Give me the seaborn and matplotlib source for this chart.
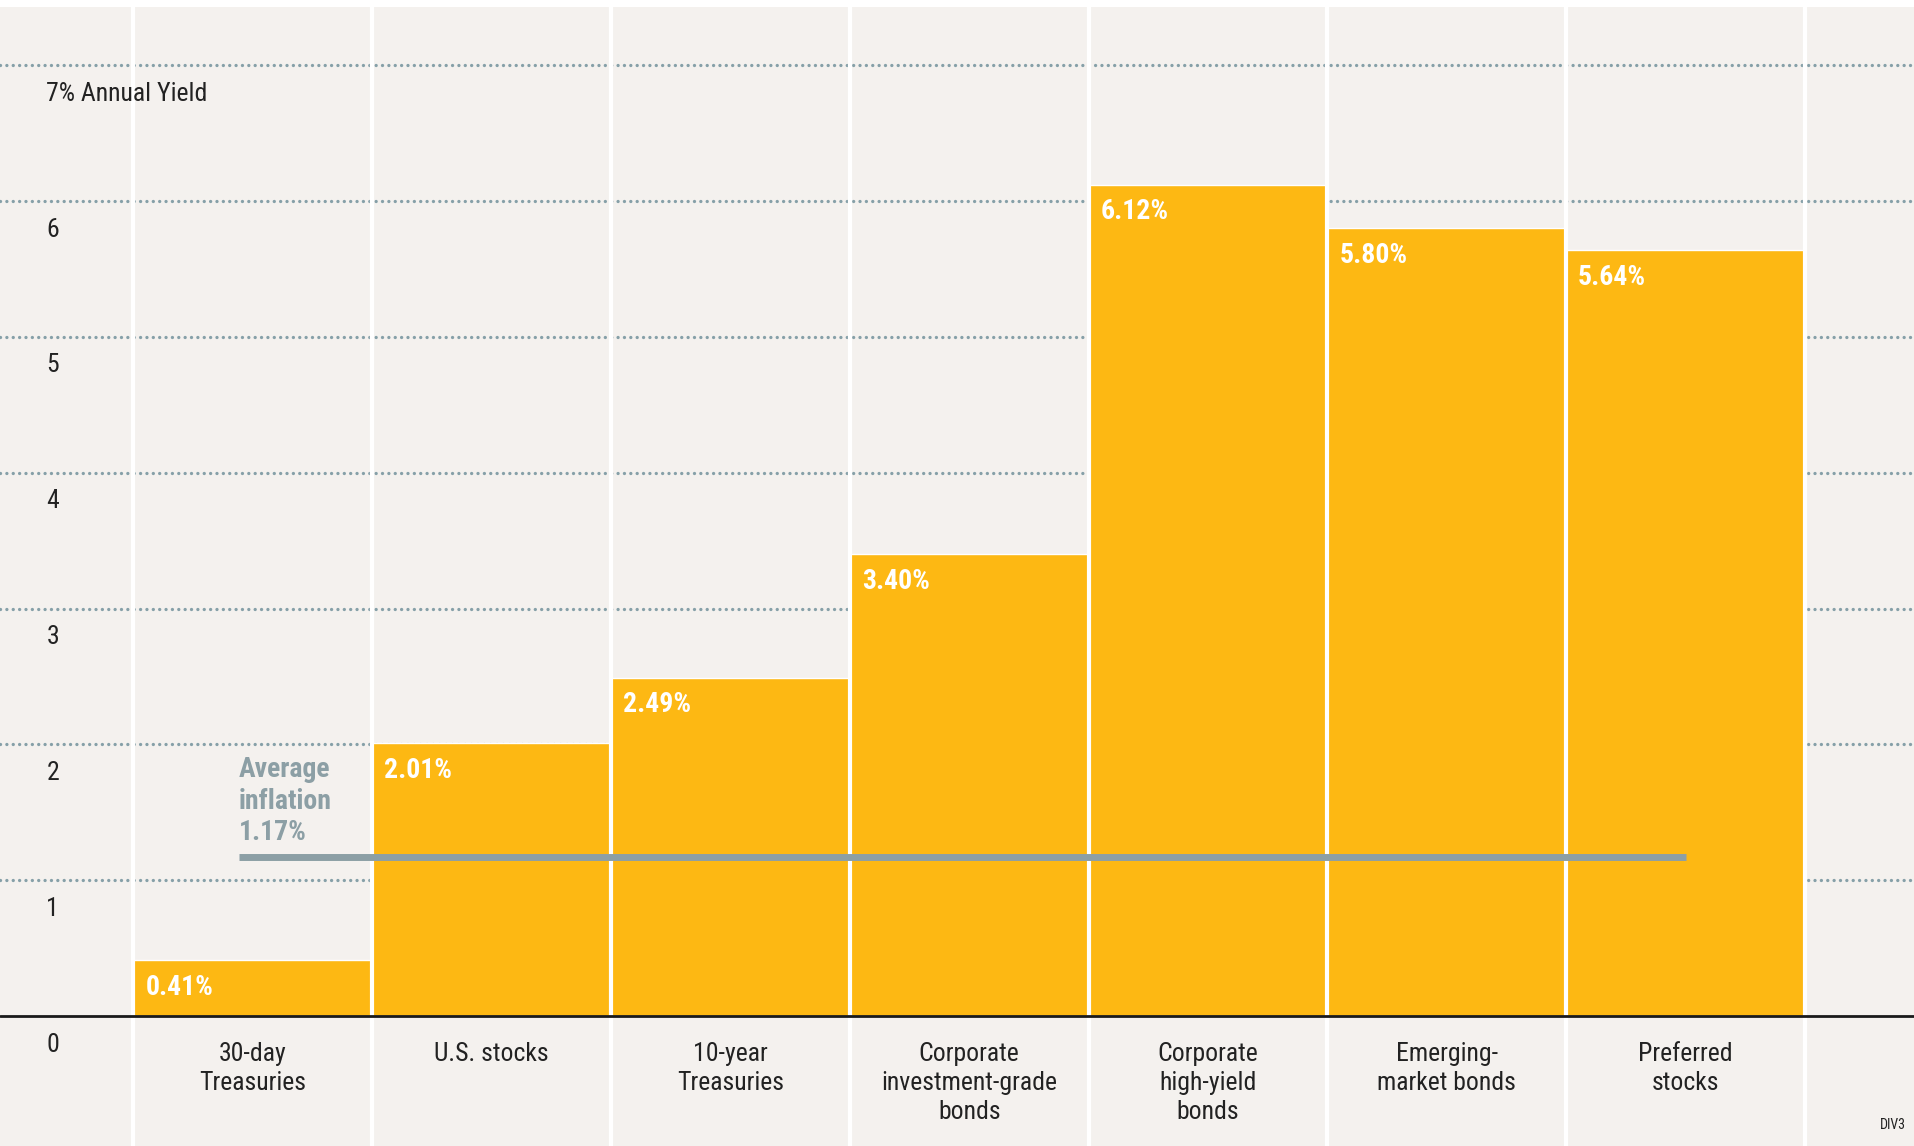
import numpy as np
import pandas as pd
import seaborn as sns
import matplotlib.pyplot as plt

# data
categories = ["30-day\nTreasuries", "U.S. stocks", "10-year\nTreasuries",
              "Corporate\ninvestment-grade\nbonds", "Corporate\nhigh-yield\nbonds",
              "Emerging-\nmarket bonds", "Preferred\nstocks"]
yields = [0.41, 2.01, 2.49, 3.40, 6.12, 5.80, 5.64]
inflation = 1.17
ytick_values = [0, 1, 2, 3, 4, 5, 6, 7]
ytick_labels = ["0", "1", "2", "3", "4", "5", "6", "7% Annual Yield"]

BAR_COLOR = "#FDB813"
BG_COLOR = "#F4F1EE"
GRID_COLOR = "#86A0A8"
INFL_COLOR = "#8C9FA5"
TEXT_COLOR = "#222222"
FONT = ["Roboto Condensed", "Liberation Sans Narrow", "DejaVu Sans"]

sns.set_theme(style="white")
plt.rcParams["font.family"] = FONT
plt.rcParams["font.stretch"] = "condensed"

df = pd.DataFrame({"category": categories, "yield": yields})

fig = plt.figure(figsize=(19.15, 11.46), dpi=100, facecolor="white")
ax = fig.add_axes([0, 0, 1, 0.994])
ax.set_facecolor(BG_COLOR)

sns.barplot(data=df, x="category", y="yield", ax=ax, color=BAR_COLOR,
            saturation=1, width=1.0, zorder=2)

# dotted horizontal gridlines behind the bars
for v in ytick_values[1:]:
    ax.axhline(v, color=GRID_COLOR, linestyle=(0, (0.01, 1.9)), linewidth=2.4,
               dash_capstyle="round", zorder=1)

# white column separators
for x in np.arange(-0.5, len(categories), 1.0):
    ax.axvline(x, color="white", linewidth=3.0, zorder=3)

ax.axhline(0, color="#1a1a1a", linewidth=2.0, zorder=4)

# inflation line
ax.plot([-0.06, 6.0], [inflation, inflation], color=INFL_COLOR,
        linewidth=5.0, solid_capstyle="butt", zorder=5)
ax.text(-0.06, inflation + 0.08, f"Average\ninflation\n{inflation:.2f}%",
        color=INFL_COLOR, fontsize=20, fontweight="bold", ha="left",
        va="bottom", linespacing=1.22, zorder=6)

# value labels inside bars
for i, v in enumerate(yields):
    ax.text(i - 0.45, v - 0.2, f"{v:.2f}%", color="white", fontsize=20,
            fontweight="bold", ha="left", va="center", zorder=6)

# y labels sit just under each gridline
for v, lab in zip(ytick_values, ytick_labels):
    ax.text(-0.865, v - 0.21, lab, color=TEXT_COLOR, fontsize=18.5,
            ha="left", va="center", zorder=6)

# category labels under baseline
for i, cat in enumerate(categories):
    ax.text(i, -0.19, cat, color=TEXT_COLOR, fontsize=18.5, ha="center",
            va="top", linespacing=1.27, zorder=6)

ax.text(0.995, 0.012, "DIV3", transform=ax.transAxes, color=TEXT_COLOR,
        fontsize=10, ha="right", va="bottom")

ax.set_xlim(-1.059, 6.961)
ax.set_ylim(-0.957, 7.43)
ax.set_xticks([])
ax.set_yticks([])
ax.set_xlabel("")
ax.set_ylabel("")
for s in ax.spines.values():
    s.set_visible(False)

fig.savefig("out.png", dpi=100, facecolor="white")
